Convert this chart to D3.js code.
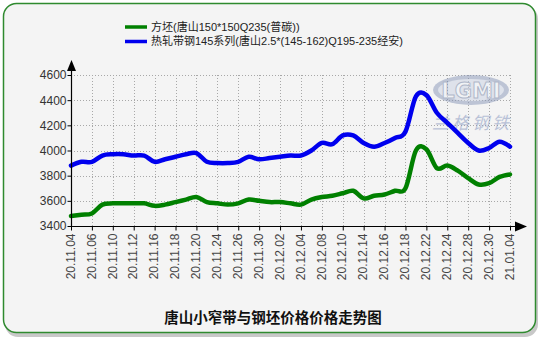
<!DOCTYPE html>
<html>
<head>
<meta charset="utf-8">
<script src="https://cdn.jsdelivr.net/npm/d3@7"></script>
<style>
  html, body { margin: 0; padding: 0; background: #ffffff; }
  svg { display: block; font-family: "Liberation Sans", "Noto Sans CJK SC", sans-serif; }
</style>
</head>
<body>
<svg id="chart" width="543" height="344"></svg>
<script>
// Trading days, 2020-11-04 .. 2021-01-04
const dates = [
  "20.11.04","20.11.05","20.11.06","20.11.09","20.11.10","20.11.11","20.11.12","20.11.13",
  "20.11.16","20.11.17","20.11.18","20.11.19","20.11.20","20.11.23","20.11.24","20.11.25",
  "20.11.26","20.11.27","20.11.30","20.12.01","20.12.02","20.12.03","20.12.04","20.12.07",
  "20.12.08","20.12.09","20.12.10","20.12.11","20.12.14","20.12.15","20.12.16","20.12.17",
  "20.12.18","20.12.21","20.12.22","20.12.23","20.12.24","20.12.25","20.12.28","20.12.29",
  "20.12.30","20.12.31","21.01.04"
];

// Billet price, Tangshan 150*150 Q235 (yuan/t)
const billet = [
  3480, 3490, 3500, 3570, 3580, 3580, 3580, 3580,
  3560, 3570, 3590, 3610, 3630, 3590, 3580, 3570,
  3580, 3610, 3600, 3590, 3590, 3580, 3570, 3610,
  3630, 3640, 3660, 3680, 3620, 3640, 3650, 3680,
  3700, 4000, 4010, 3860, 3880, 3840, 3780, 3730,
  3740, 3790, 3810
];

// Hot-rolled strip 145 series, Tangshan 2.5*(145-162) Q195-235 (yuan/t)
const strip = [
  3880, 3910, 3910, 3960, 3970, 3970, 3960, 3960,
  3910, 3930, 3950, 3970, 3980, 3910, 3900, 3900,
  3910, 3950, 3930, 3940, 3950, 3960, 3960, 4000,
  4060, 4050, 4120, 4120, 4060, 4030, 4060, 4100,
  4150, 4430, 4440, 4300, 4220, 4140, 4060, 4000,
  4020, 4070, 4030
];

const yTicks = [3400, 3600, 3800, 4000, 4200, 4400, 4600];
const seriesNames = ["方坯(唐山150*150Q235(普碳))", "热轧带钢145系列(唐山2.5*(145-162)Q195-235经安)"];
const seriesColors = ["#008000", "#0000ee"];
const chartTitle = "唐山小窄带与钢坯价格价格走势图";

const svg = d3.select("#chart");

// Panel with drop shadow and green rounded border
svg.append("rect")
  .attr("x", 5).attr("y", 6).attr("width", 533).attr("height", 331)
  .attr("rx", 13).attr("fill", "#9a9a9a").attr("opacity", 0.55);
svg.append("rect")
  .attr("x", 3.5).attr("y", 3.5).attr("width", 532).attr("height", 329)
  .attr("rx", 13).attr("fill", "#f4f4f4")
  .attr("stroke", "#2f8a2f").attr("stroke-width", 1.5);

// Plot area
const plotLeft = 71, plotRight = 510, plotTop = 75, plotBottom = 226;

const x = d3.scalePoint().domain(dates).range([plotLeft, plotRight]);
const y = d3.scaleLinear().domain([3400, 4600]).range([plotBottom, plotTop]);

const labelDates = dates.filter((d, i) => i % 2 === 0);

// Dotted grid
const grid = svg.append("g").attr("stroke", "#a8a8a8").attr("stroke-width", 1)
  .attr("stroke-dasharray", "1,2").attr("fill", "none");
grid.selectAll("line.v").data(labelDates.slice(1)).join("line")
  .attr("x1", d => Math.round(x(d)) + 0.5).attr("x2", d => Math.round(x(d)) + 0.5)
  .attr("y1", plotTop).attr("y2", plotBottom);
grid.selectAll("line.h").data(yTicks.slice(1)).join("line")
  .attr("x1", plotLeft).attr("x2", plotRight)
  .attr("y1", d => Math.round(y(d)) + 0.5).attr("y2", d => Math.round(y(d)) + 0.5);

// Watermark logo
const wm = svg.append("g").attr("opacity", 0.5);
wm.append("ellipse").attr("cx", 471).attr("cy", 90).attr("rx", 38).attr("ry", 15)
  .attr("fill", "#8796b8");
wm.append("ellipse").attr("cx", 471).attr("cy", 90).attr("rx", 33).attr("ry", 11)
  .attr("fill", "#c9d1e3");
wm.append("text").attr("x", 471).attr("y", 98).attr("text-anchor", "middle")
  .attr("font-family", "DejaVu Sans").attr("font-weight", "bold").attr("font-size", 21)
  .attr("fill", "#eef1f7").attr("stroke", "#6a7a9e").attr("stroke-width", 1)
  .text("LGMI");
wm.append("text").attr("x", 472).attr("y", 129).attr("text-anchor", "middle")
  .attr("font-family", "Noto Sans CJK SC").attr("font-size", 17).attr("font-style", "italic")
  .attr("letter-spacing", 3).attr("fill", "#7d90bc")
  .text("兰格钢铁");

// Series lines: smooth spline through every daily price
const line = d3.line()
  .x((d, i) => x(dates[i]))
  .y(d => y(d))
  .curve(d3.curveCardinal.tension(0));

[billet, strip].forEach((vals, k) => {
  svg.append("path").datum(vals)
    .attr("fill", "none").attr("stroke", seriesColors[k])
    .attr("stroke-width", 4.5).attr("stroke-linejoin", "round").attr("stroke-linecap", "round")
    .attr("d", line);
});

// Y axis
const yAxis = svg.append("g").attr("transform", `translate(${plotLeft + 0.5},0)`)
  .call(d3.axisLeft(y).tickValues(yTicks).tickFormat(d3.format("d"))
    .tickSize(4).tickSizeOuter(0).tickPadding(1));
yAxis.select(".domain").remove();
yAxis.selectAll(".tick line").attr("stroke", "#000");
yAxis.selectAll("text").attr("font-size", 12).attr("fill", "#333")
  .attr("font-family", "Liberation Sans");
svg.append("line").attr("x1", plotLeft + 0.5).attr("x2", plotLeft + 0.5)
  .attr("y1", plotBottom + 0.5).attr("y2", 68).attr("stroke", "#000").attr("stroke-width", 1.2);
svg.append("path").attr("d", `M${plotLeft - 4},71 L${plotLeft + 5},71 L${plotLeft + 0.5},60 Z`).attr("fill", "#000");

// X axis
const xAxis = svg.append("g").attr("transform", `translate(0,${plotBottom + 0.5})`)
  .call(d3.axisBottom(x).tickValues(labelDates).tickSize(4).tickSizeOuter(0).tickPadding(6));
xAxis.select(".domain").remove();
xAxis.selectAll(".tick line").attr("stroke", "#000");
xAxis.selectAll("text")
  .attr("font-size", 12).attr("fill", "#444").attr("font-family", "Liberation Sans")
  .attr("text-anchor", "end")
  .attr("transform", "rotate(-90)")
  .attr("x", -7).attr("y", -1).attr("dy", "0.35em");
svg.append("line").attr("x1", plotLeft).attr("x2", 518)
  .attr("y1", plotBottom + 0.5).attr("y2", plotBottom + 0.5).attr("stroke", "#000").attr("stroke-width", 1.2);
svg.append("path").attr("d", `M515,${plotBottom - 4.5} L527,${plotBottom + 0.5} L515,${plotBottom + 5.5} Z`).attr("fill", "#000");

// Legend
const legend = svg.append("g");
seriesNames.forEach((name, k) => {
  const ly = 27 + k * 14.5;
  legend.append("line").attr("x1", 125).attr("x2", 147)
    .attr("y1", ly).attr("y2", ly).attr("stroke", seriesColors[k]).attr("stroke-width", 3.5);
  legend.append("text").attr("x", 151).attr("y", ly).attr("dy", "0.36em")
    .attr("font-size", 11).attr("fill", "#222").text(name);
});

// Title
svg.append("text").attr("x", 273).attr("y", 318).attr("dy", "0.35em")
  .attr("text-anchor", "middle").attr("font-size", 14.5).attr("font-weight", "bold")
  .attr("font-family", "Noto Sans CJK SC").attr("fill", "#111")
  .text(chartTitle);
</script>
</body>
</html>
